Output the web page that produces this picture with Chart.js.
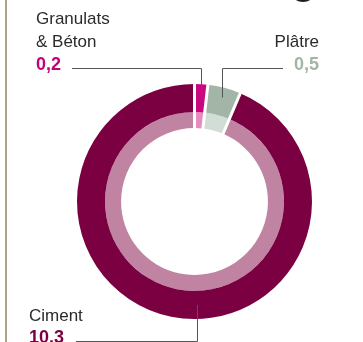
<!DOCTYPE html>
<html>
<head>
<meta charset="utf-8">
<script src="https://cdn.jsdelivr.net/npm/chart.js@4.4.0/dist/chart.umd.min.js"></script>
<style>
  html, body { margin: 0; padding: 0; background: #fff; }
  #wrap { position: relative; width: 363px; height: 342px; overflow: hidden; }
  #rule { position: absolute; left: 5px; top: 0; width: 2px; height: 342px; background: #b3a086; }
  canvas { position: absolute; left: 0; top: 0; }
</style>
</head>
<body>
<div id="wrap">
  <div id="rule"></div>
  <canvas id="c" width="363" height="342"></canvas>
</div>
<script>
// Production by segment (millions of tonnes)
const categories = ['Granulats & Béton', 'Plâtre', 'Ciment'];
const values = [0.2, 0.5, 10.3];
const valueLabels = ['0,2', '0,5', '10.3'];
const outerColors = ['#c9087f', '#a3b5a6', '#7b0041'];
const innerColors = ['#e68ac0', '#d2ddd5', '#c083a2'];
const labelColors = ['#c4007a', '#a3b5a6', '#7b0041'];

const FONT = '"Liberation Sans", Arial, sans-serif';

// White separators between slices, callout labels and leader lines
const annotate = {
  id: 'annotate',
  afterDatasetsDraw(chart) {
    const ctx = chart.ctx;
    const outer = chart.getDatasetMeta(0).data;
    const inner = chart.getDatasetMeta(1).data;
    const cx = outer[0].x, cy = outer[0].y;
    const rOut = outer[0].outerRadius, rIn = inner[0].innerRadius;

    ctx.save();
    ctx.strokeStyle = '#fff';
    ctx.lineWidth = 3;
    outer.forEach(arc => {
      const a = arc.startAngle;
      ctx.beginPath();
      ctx.moveTo(cx + Math.cos(a) * (rIn - 1), cy + Math.sin(a) * (rIn - 1));
      ctx.lineTo(cx + Math.cos(a) * (rOut + 1), cy + Math.sin(a) * (rOut + 1));
      ctx.stroke();
    });
    ctx.restore();

    const ringMid = (arc) => (arc.outerRadius + arc.innerRadius) / 2;
    const pointAt = (angle, r) => [cx + Math.cos(angle) * r, cy + Math.sin(angle) * r];

    ctx.save();
    ctx.strokeStyle = '#555';
    ctx.lineWidth = 1;
    // Granulats & Béton
    const g = outer[0];
    const [gx, gy] = pointAt((g.startAngle + g.endAngle) / 2, ringMid(g) + 4);
    ctx.beginPath();
    ctx.moveTo(72, 68.5); ctx.lineTo(Math.round(gx) + 0.5, 68.5); ctx.lineTo(Math.round(gx) + 0.5, gy);
    ctx.stroke();
    // Plâtre
    const p = outer[1];
    const [px, py] = pointAt((p.startAngle + p.endAngle) / 2, ringMid(p) + 4);
    ctx.beginPath();
    ctx.moveTo(283, 68.5); ctx.lineTo(Math.round(px) + 0.5, 68.5); ctx.lineTo(Math.round(px) + 0.5, py);
    ctx.stroke();
    // Ciment
    const [kx, ky] = pointAt(Math.PI / 2 - 0.02, ringMid(outer[2]));
    ctx.beginPath();
    ctx.moveTo(Math.round(kx) + 0.5, ky); ctx.lineTo(Math.round(kx) + 0.5, 341.5); ctx.lineTo(76, 341.5);
    ctx.stroke();
    ctx.restore();

    ctx.save();
    ctx.textBaseline = 'alphabetic';
    ctx.font = '17px ' + FONT;
    ctx.fillStyle = '#2b2b2b';
    ctx.textAlign = 'left';
    ctx.fillText('Granulats', 36, 24);
    ctx.fillText('& Béton', 36, 47);
    ctx.fillText('Ciment', 29, 321);
    ctx.textAlign = 'right';
    ctx.fillText('Plâtre', 319, 47);

    ctx.font = 'bold 18px ' + FONT;
    ctx.textAlign = 'left';
    ctx.fillStyle = labelColors[0];
    ctx.fillText(valueLabels[0], 36, 70);
    ctx.fillStyle = labelColors[2];
    ctx.fillText(valueLabels[2], 29, 343);
    ctx.textAlign = 'right';
    ctx.fillStyle = labelColors[1];
    ctx.fillText(valueLabels[1], 319, 70);

    // edge of the emblem above the chart
    ctx.fillStyle = '#1e1e1e';
    ctx.beginPath();
    ctx.ellipse(303, -11, 13.5, 13, 0, 0, Math.PI * 2);
    ctx.fill();
    ctx.fillStyle = '#fff';
    ctx.beginPath();
    ctx.ellipse(303, -13, 12, 12, 0, 0, Math.PI * 2);
    ctx.fill();
    ctx.restore();
  }
};

new Chart(document.getElementById('c'), {
  type: 'doughnut',
  data: {
    labels: categories,
    datasets: [
      { data: values, backgroundColor: outerColors, borderWidth: 0, weight: 28 },
      { data: values, backgroundColor: innerColors, borderWidth: 0, weight: 16 }
    ]
  },
  options: {
    responsive: false,
    animation: false,
    cutout: '62.5%',
    layout: { padding: { left: 77, top: 84, right: 51, bottom: 23 } },
    plugins: { legend: { display: false }, tooltip: { enabled: false } }
  },
  plugins: [annotate]
});
</script>
</body>
</html>
